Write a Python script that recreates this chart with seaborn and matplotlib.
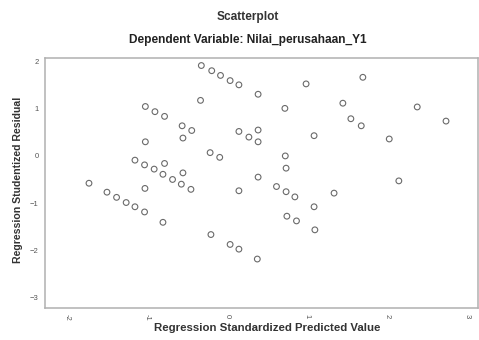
import pandas as pd
import seaborn as sns
import matplotlib
matplotlib.use("Agg")
import matplotlib.pyplot as plt

# values
pred = [-0.32, -0.19, -0.08, 0.04, 0.15, 0.39, 0.99, 1.70, 1.45, 2.38,
        1.55, 1.68, 2.74, 2.03, 1.09, 0.725, -0.33, -1.02, -0.90, -0.78,
        -0.56, -0.44, -0.55, -1.02, 0.15, 0.275, 0.39, 0.39, -0.21, -0.09,
        0.73, 0.74, 0.39, -1.15, -1.03, -0.91, -0.78, -0.80, -0.68, -0.55,
        -0.57, -0.45, -1.025, -1.725, -1.50, -1.38, -1.26, -1.15, -1.03, -0.80,
        0.15, 0.62, 0.74, 0.85, 1.34, 1.09, 0.75, 0.87, 1.10, -0.20,
        0.04, 0.15, 0.38, 2.15]
resid = [1.92, 1.81, 1.71, 1.60, 1.51, 1.31, 1.53, 1.67, 1.12, 1.04,
         0.79, 0.64, 0.74, 0.36, 0.43, 1.01, 1.18, 1.05, 0.94, 0.84,
         0.64, 0.54, 0.38, 0.30, 0.52, 0.40, 0.55, 0.30, 0.07, -0.03,
         0.00, -0.26, -0.45, -0.09, -0.19, -0.28, -0.16, -0.39, -0.50, -0.36,
         -0.60, -0.71, -0.69, -0.58, -0.77, -0.88, -0.99, -1.08, -1.19, -1.41,
         -0.74, -0.65, -0.76, -0.87, -0.79, -1.08, -1.28, -1.38, -1.57, -1.67,
         -1.88, -1.98, -2.19, -0.53]
xticks = [-2, -1, 0, 1, 2, 3]
yticks = [2, 1, 0, -1, -2, -3]

df = pd.DataFrame({"pred": pred, "resid": resid})

sns.set_style("white")
plt.rcParams["font.family"] = ["Liberation Sans", "DejaVu Sans"]

fig = plt.figure(figsize=(4.79, 3.40), dpi=100)
ax = fig.add_axes([45 / 479, 32 / 340, 433 / 479, 250 / 340])
sns.scatterplot(data=df, x="pred", y="resid", ax=ax, marker="o",
                facecolor="none", edgecolor="#6a6a6a", s=17, linewidth=0.8)

ax.set_xlim(-2.275, 3.14)
ax.set_ylim(-3.23, 2.08)
ax.set_xticks(xticks)
ax.set_yticks(yticks)
ax.set_xticklabels([str(t) for t in xticks], rotation=-90)
ax.tick_params(axis="both", direction="out", length=3, width=0.8,
               colors="#9a9a9a", labelcolor="#555555", labelsize=5.5, pad=1.5)
for s in ax.spines.values():
    s.set_color("#b0b0b0")
    s.set_linewidth(1.1)

ax.set_xlabel("")
ax.set_ylabel("")
fig.text(267.5 / 479, 1 - 328 / 340, "Regression Standardized Predicted Value",
         ha="center", va="center", fontsize=8.2, fontweight="bold", color="#333333")
fig.text(18 / 479, 1 - 179.5 / 340, "Regression Studentized Residual",
         ha="center", va="center", rotation=90, fontsize=7.6,
         fontweight="bold", color="#333333")
fig.text(248 / 479, 1 - 17 / 340, "Scatterplot", ha="center", va="center",
         fontsize=8.6, fontweight="bold", color="#333333")
fig.text(248 / 479, 1 - 40 / 340, "Dependent Variable: Nilai_perusahaan_Y1",
         ha="center", va="center", fontsize=8.6, fontweight="bold", color="#222222")

fig.savefig("out.png", dpi=100)
